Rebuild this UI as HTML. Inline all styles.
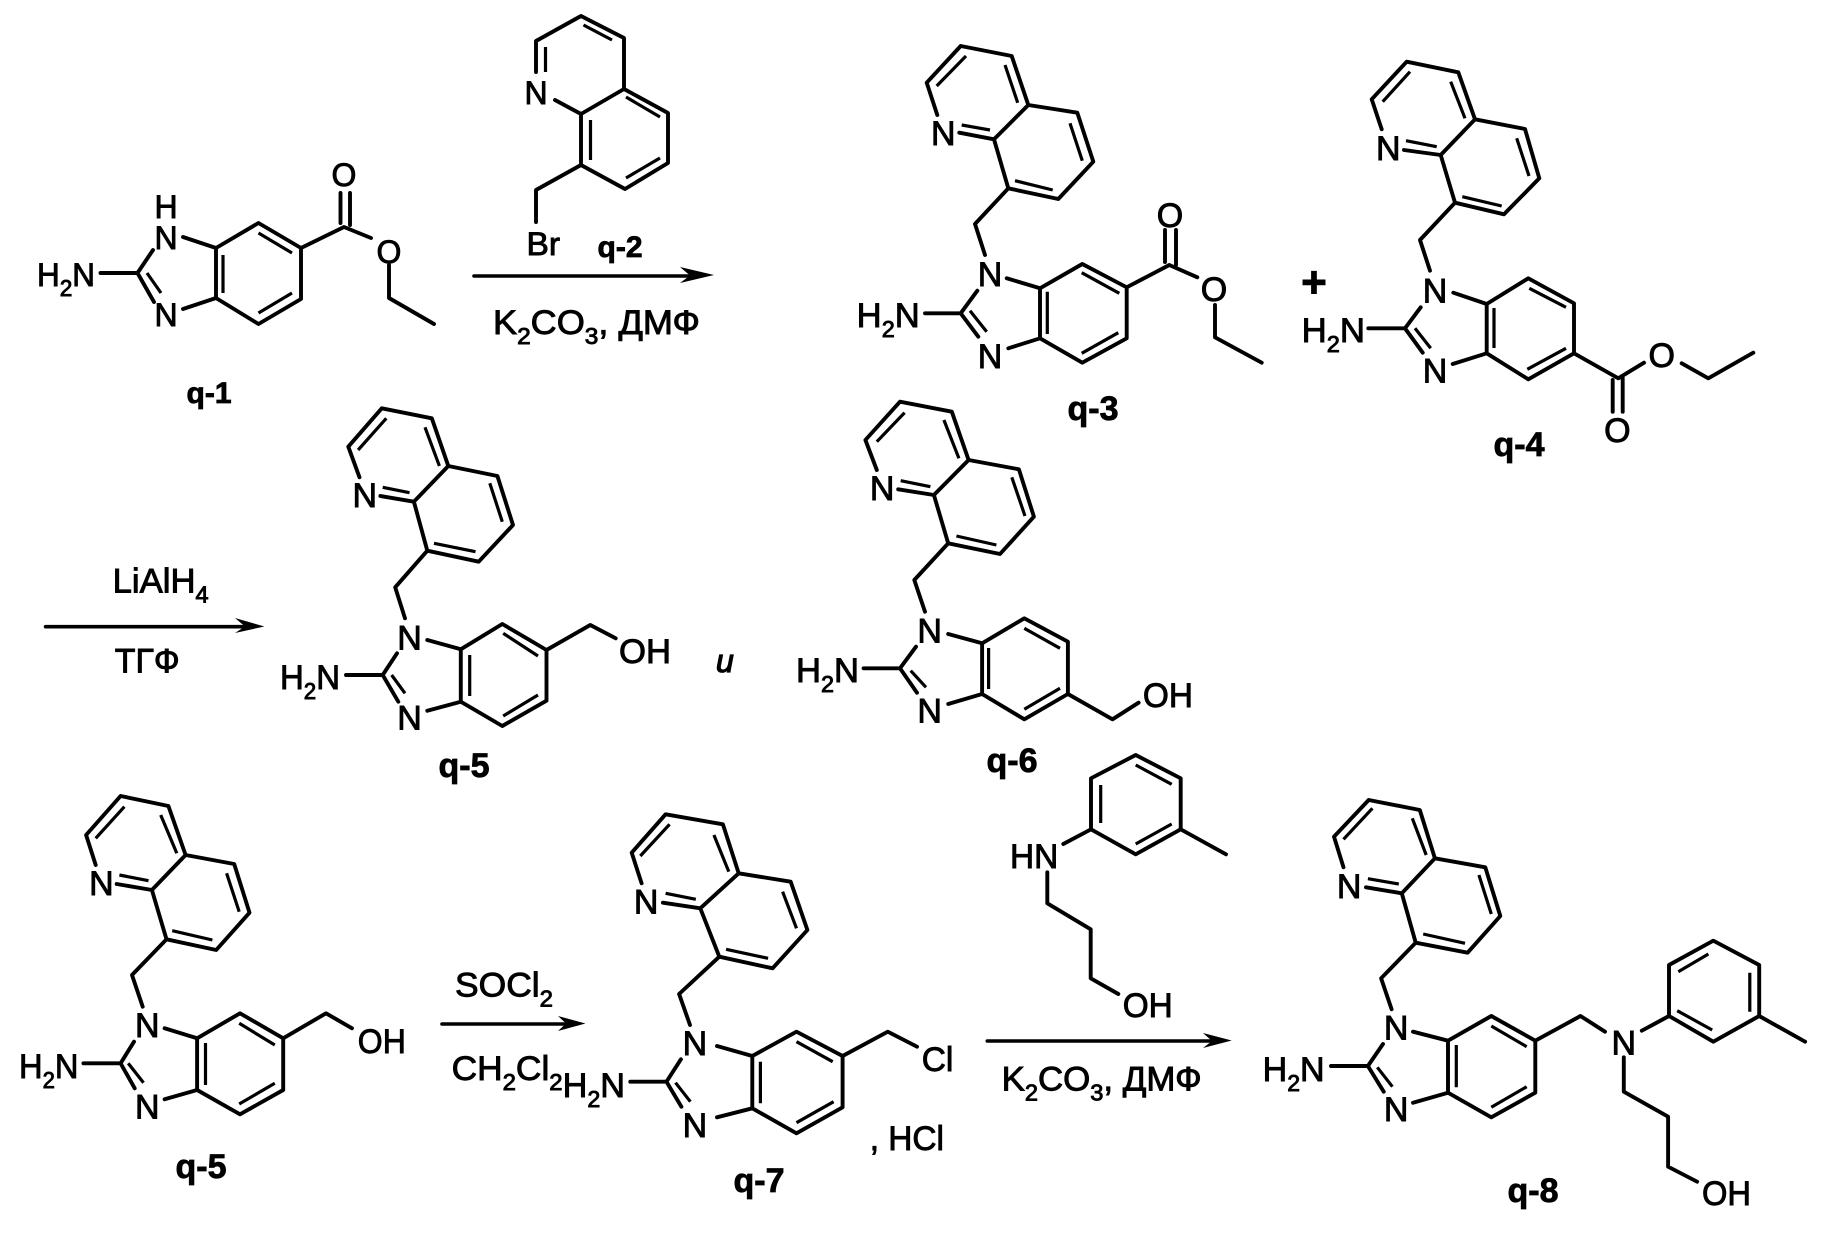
<!DOCTYPE html>
<html><head><meta charset="utf-8"><title>Reaction scheme</title>
<style>
html,body{margin:0;padding:0;background:#fff;width:1835px;height:1235px;overflow:hidden}
svg{display:block}
.b{fill:none;stroke:#000;stroke-width:3.9;stroke-linejoin:round;stroke-linecap:round}
.i{fill:none;stroke:#000;stroke-width:3.2;stroke-linecap:butt}
.r{fill:none;stroke:#000;stroke-width:3.6;stroke-linecap:round}
text{font-family:"Liberation Sans",Arial,sans-serif;font-size:34px;fill:#000;stroke:#000;stroke-width:.9}
.a{text-anchor:middle}
.sm{font-size:32px}
.q{font-weight:bold;text-anchor:middle;stroke-width:.8}
.s{font-size:23px}
</style></head><body>
<svg width="1835" height="1235" viewBox="0 0 1835 1235" xmlns="http://www.w3.org/2000/svg">
<rect width="1835" height="1235" fill="#fff"/>

<!-- q-1 -->
<path class="b" d="M216 248L258.5 223L301 248L301 299L258.5 324L216 298Z M183 237L216 248 M183 309L216 298 M153 250L137.5 273L154 302 M100.5 273H137.5 M301 248L344 227L371 238 M389 265V298L434 324 M340.5 193V223 M350 193V225"/>
<path class="i" d="M223 255V293 M258.5 233L292 253 M258.5 313L292 293 M147 273L161 293"/>
<text class="a sm" x="166" y="218">H</text><text class="a sm" x="166" y="249">N</text><text class="a sm" x="166" y="326">N</text>
<text class="sm" x="37" y="286" textLength="58" lengthAdjust="spacingAndGlyphs">H<tspan class="s" dy="10">2</tspan><tspan dy="-10">N</tspan></text>
<text class="a sm" x="344" y="186">O</text><text class="a sm" x="389" y="263">O</text>
<text class="q" style="font-size:30px" x="209" y="403">q-1</text>

<!-- q-2 -->
<path class="b" d="M555 100L581 114L624 89L624 38L581 16L536 41V72 M624 89L668 113V163L625 189L581 165V114 M581 165L536 190V222"/>
<path class="i" d="M545.5 47V72 M583.5 25L612 40 M626 97L660 117 M660 158L626 178 M590.5 120V160"/>
<text class="a sm" x="536" y="104">N</text>
<text class="sm" x="526.5" y="255" textLength="33.5" lengthAdjust="spacingAndGlyphs">Br</text>
<text class="q" style="font-size:30px" x="620" y="257">q-2</text>
<path class="r" d="M474 276H690"/><path d="M714 275L680 267L690 275.5L680 283Z"/>
<text x="493" y="334" textLength="207" lengthAdjust="spacingAndGlyphs">K<tspan class="s" dy="10">2</tspan><tspan dy="-10">CO</tspan><tspan class="s" dy="10">3</tspan><tspan dy="-10">, ДМФ</tspan></text>

<!-- q-3 -->
<path class="b" d="M937.3 115L926.7 82.7L960.7 46L1011.7 56L1028.3 105L994 139.3L1008.3 188.3L1058.3 199L1093.3 161.7L1077.3 112.7L1028.3 105 M994 139.3L959.3 132.7 M1008.3 188.3L975 224L985 255 M977.3 290.7L960.7 313.3L978.3 336.7 M925 313.3H960.7 M1006.7 278.3L1040 288.3L1082.3 264L1126.7 287.3V338.3L1082.3 362.7L1040 338.3L1008.3 348.3 M1040 288.3V338.3 M1126.7 287.3L1169.3 265L1197.3 277.3 M1215 305V337.3L1261.7 362.7 M1165 230V262 M1176 230V265"/>
<path class="i" d="M966 56L936.7 86 M1005 65L1017.7 102.7 M1070 123.3L1082.3 160.7 M1052.7 190L1015 180.7 M990 130L961.7 125 M970 310.7L986.7 331.7 M1047.3 291.7V334 M1081.7 272.7L1119.3 293.3 M1081.7 353.3L1118.3 332.7"/>
<text class="a" x="943.3" y="145">N</text><text class="a" x="990" y="286">N</text><text class="a" x="990" y="368">N</text>
<text x="856.7" y="327" textLength="63" lengthAdjust="spacingAndGlyphs">H<tspan class="s" dy="10">2</tspan><tspan dy="-10">N</tspan></text>
<text class="a" x="1170" y="227">O</text><text class="a" x="1214" y="301">O</text>
<text class="q" x="1093" y="420">q-3</text>
<text x="1314" y="297" style="font-size:44px;font-weight:bold" class="a">+</text>

<!-- q-4 -->
<path class="b" d="M1381.7 129.3L1371.7 99.3L1406.7 61.7L1458.3 72.3L1475 119.3L1440.7 155L1455 202.7L1504 214.3L1539.3 178.3L1525 129L1475 119.3 M1440.7 155L1404 150 M1455 202.7L1420 240L1430 270.7 M1420.7 307.3L1405 328.3L1422.7 352.7 M1368.3 328.3H1405 M1453.3 292.7L1486.7 304L1528.3 278.3L1574 303.3V353.3L1528.3 379.3L1486.7 353.3L1452.7 364 M1486.7 304V353.3 M1574 353.3L1618.3 378.3L1644 362.7 M1681.7 363.3L1708.3 378.3L1753.3 352.7 M1612.7 380V411.7 M1622.7 378V411.7"/>
<path class="i" d="M1410 71.7L1382.7 101.7 M1450.7 81.7L1465 118.3 M1516.7 138.3L1529 176 M1501.7 206L1462.3 196.7 M1436.7 146.7L1406 140.7 M1415 328.3L1430.7 348.3 M1494 308V348 M1529.3 288.3L1566 307.3 M1527.3 369.3L1566 348.3"/>
<text class="a" x="1388.3" y="160">N</text><text class="a" x="1435" y="302.5">N</text><text class="a" x="1435" y="382.5">N</text>
<text x="1301.7" y="342" textLength="63.3" lengthAdjust="spacingAndGlyphs">H<tspan class="s" dy="10">2</tspan><tspan dy="-10">N</tspan></text>
<text class="a" x="1617.3" y="442">O</text><text class="a" x="1661.7" y="367">O</text>
<text class="q" x="1519" y="456">q-4</text>

<!-- q-5 upper -->
<path class="b" d="M359.5 477.3L348.3 446.7L381.8 408.3L431.8 418.3L448.3 466L413.9 501.7L427.3 550.7L478.7 561.7L513 525L497.4 476L448.3 466 M413.9 501.7L380.4 496 M427.3 550.7L395.2 587.3L405 618.3 M397 653.3L382.7 675L398.3 701.7 M346 675H382.7 M427.3 640L460.8 649.3L502.3 624L546.5 650V700.7L502.3 726L460.8 701.7L427.3 710.7 M460.8 649.3V701.7 M546.5 650L590.3 625L615.7 638.3"/>
<path class="i" d="M386.3 418.3L358.1 450 M425 427.3L439.4 466 M489.8 483.3L502.3 521.7 M475.5 551.7L434 543.3 M409.5 492.7L382.7 487.3 M391.6 675L405 693.3 M469.7 655V696 M503.2 633.3L538 656 M503.2 716L538 695"/>
<text class="a" x="364.8" y="507">N</text><text class="a" x="409.5" y="649.5">N</text><text class="a" x="409.5" y="729.5">N</text>
<text x="280" y="689" textLength="60" lengthAdjust="spacingAndGlyphs">H<tspan class="s" dy="10">2</tspan><tspan dy="-10">N</tspan></text>
<text x="619" y="663" textLength="52" lengthAdjust="spacingAndGlyphs">OH</text>
<text class="q" x="464" y="777">q-5</text>
<text x="112.6" y="592.7" textLength="96" lengthAdjust="spacingAndGlyphs">LiAlH<tspan class="s" dy="10">4</tspan></text>
<path class="r" d="M45.6 626.7H245"/><path d="M264.4 626.5L235 618L245 626.5L235 633Z"/>
<text x="114.8" y="672.7" textLength="64.8" lengthAdjust="spacingAndGlyphs">ТГФ</text>
<text x="716" y="672" style="font-size:32px;font-style:italic;stroke-width:1.2">и</text>

<!-- q-6 -->
<path class="b" d="M876.8 470L865.4 440L900 401.7L951.8 411.7L968.6 460L933.9 495L948.2 543.3L1000 554L1033.9 516.7L1018.9 469.3L968.6 460 M933.9 495L898.2 489.3 M948.2 543.3L914.3 580L925 611.7 M916 646.7L900 668.3L917 692.7 M863.6 668.3H900 M948.2 634L982.1 643.3L1024.3 618.3L1067.9 641.7V694L1024.3 719.3L982.1 694L948.2 704 M982.1 643.3V694 M1067.9 694L1112.5 719.3L1138.6 702.7"/>
<path class="i" d="M904.6 412.7L876.8 441.7 M943.9 420L958.9 458.3 M1011.8 477.3L1025 516 M996.4 545L956.4 536 M930.4 486.7L900.7 480.7 M910.7 670.7L926 687.3 M988.6 648V689 M1024.3 628.3L1060 648.3 M1024.3 709.3L1060 688.3"/>
<text class="a" x="882.1" y="500">N</text><text class="a" x="929.6" y="642.5">N</text><text class="a" x="929.6" y="722.5">N</text>
<text x="796" y="682" textLength="63" lengthAdjust="spacingAndGlyphs">H<tspan class="s" dy="10">2</tspan><tspan dy="-10">N</tspan></text>
<text x="1142.9" y="707" textLength="50" lengthAdjust="spacingAndGlyphs">OH</text>
<text class="q" x="1012" y="772">q-6</text>

<!-- q-5 lower -->
<path class="b" d="M95.7 865L86.1 835L120.6 796L168.4 806L185.6 855L151.9 890L166.5 939.3L216.2 950L249.5 912.7L234.2 864L185.6 855 M151.9 890L116.7 884 M166.5 939.3L132 975L142.7 1006.7 M134 1041.7L120.6 1063.3L134.7 1088.3 M83.4 1063.3H120.6 M164.6 1028.3L197.1 1038.3L240 1013.3L283.2 1038.3V1090L240 1114.3L197.1 1090L164.6 1099.3 M197.1 1038.3V1090 M283.2 1038.3L326 1013.3L352 1028.3"/>
<path class="i" d="M124.4 806.7L95.7 838.3 M160.7 815L176.8 853.3 M226.6 873.3L239.2 911.7 M212.4 940L172.2 930.7 M148.5 880.7L119.4 875 M128.2 1063.3L143.5 1082.7 M205.5 1043V1085 M239.2 1023.3L274.8 1045 M239.2 1104L274.8 1083.3"/>
<text class="a" x="101.4" y="895">N</text><text class="a" x="147.3" y="1037">N</text><text class="a" x="147.3" y="1118.5">N</text>
<text x="19" y="1078" textLength="59.5" lengthAdjust="spacingAndGlyphs">H<tspan class="s" dy="10">2</tspan><tspan dy="-10">N</tspan></text>
<text x="357.8" y="1053" textLength="48" lengthAdjust="spacingAndGlyphs">OH</text>
<text class="q" x="201" y="1178">q-5</text>
<text x="455" y="996.7" textLength="98" lengthAdjust="spacingAndGlyphs">SOCl<tspan class="s" dy="10">2</tspan></text>
<path class="r" d="M442 1024H565"/><path d="M585.5 1023.5L558 1016L566 1023.5L558 1031Z"/>
<text x="451.6" y="1080" textLength="111" lengthAdjust="spacingAndGlyphs">CH<tspan class="s" dy="10">2</tspan><tspan dy="-10">Cl</tspan><tspan class="s" dy="10">2</tspan></text>

<!-- q-7 -->
<path class="b" d="M641.6 883.3L631.7 852.7L665.6 814.3L722.9 824.3L738.7 873.3L700.3 908.3L719.3 956.7L772.6 968.3L807.4 930L790.7 881.7L738.7 873.3 M700.3 908.3L662.9 902.7 M719.3 956.7L679.1 994L690 1025 M680.9 1059.3L666.5 1081.7L681.4 1106.7 M630.3 1081.7H666.5 M717 1046L752.3 1056L796.5 1031.7L842.6 1056V1107.3L796.5 1133.3L752.3 1108.3L717 1117.3 M752.3 1056V1108.3 M842.6 1056L887.8 1031.7L917 1046.7"/>
<path class="i" d="M669.6 824.3L640.3 856 M713.9 835L728.8 871.7 M782.6 891.7L796.5 928.3 M768.1 958.3L726.1 949.3 M695.8 899.3L665.6 893.3 M675.5 1082.7L690.4 1101.7 M760.4 1061.7V1103.3 M796.5 1041.7L832.7 1061.7 M796.5 1122.7L833.6 1101.7"/>
<text class="a" x="646.1" y="913.5">N</text><text class="a" x="694.9" y="1055">N</text><text class="a" x="694.9" y="1137">N</text>
<text x="562.6" y="1097" textLength="62.4" lengthAdjust="spacingAndGlyphs">H<tspan class="s" dy="10">2</tspan><tspan dy="-10">N</tspan></text>
<text x="921.7" y="1071" textLength="31.6" lengthAdjust="spacingAndGlyphs">Cl</text>
<text x="869.7" y="1150" textLength="74.3" lengthAdjust="spacingAndGlyphs">, HCl</text>
<text class="q" x="759" y="1192">q-7</text>

<!-- amine reagent -->
<path class="b" d="M1091 778.3L1135.7 755L1180.7 778.3V829.3L1135.7 854.3L1091 829.3Z M1180.7 829.3L1226 854.3 M1091 829.3L1063.3 844 M1047.3 872.3V903.3L1090.7 929.3V978.3L1118.3 994"/>
<path class="i" d="M1100.7 785V823 M1135.7 765L1171.7 784.3 M1135.7 844L1171.7 824"/>
<text x="1010" y="868" textLength="48.3" lengthAdjust="spacingAndGlyphs">HN</text>
<text x="1122.7" y="1017" textLength="50" lengthAdjust="spacingAndGlyphs">OH</text>
<path class="r" d="M987.3 1041H1212"/><path d="M1231.7 1040.5L1203 1033L1212 1041L1203 1048Z"/>
<text x="1001.6" y="1090.7" textLength="200" lengthAdjust="spacingAndGlyphs">K<tspan class="s" dy="10">2</tspan><tspan dy="-10">CO</tspan><tspan class="s" dy="10">3</tspan><tspan dy="-10">, ДМФ</tspan></text>

<!-- q-8 -->
<path class="b" d="M1343.5 867.3L1334 836.7L1368.7 800L1419.8 810L1434.9 858.3L1401.8 893.3L1415.7 942.7L1467.6 952.7L1500.3 916L1485.3 867.3L1434.9 858.3 M1401.8 893.3L1366 887.3 M1415.7 942.7L1381.1 978.3L1391.6 1009.3 M1383 1044L1367.9 1066L1383.7 1091.7 M1331 1066H1367.9 M1413 1031.7L1448 1040.7L1491.3 1016L1535.3 1040.7V1092.7L1491.3 1117.3L1448 1092.7L1413 1102.7 M1448 1040.7V1092.7 M1535.3 1040.7L1580.5 1016L1605 1031.7 M1641.8 1030.7L1669 1016V965L1713.3 940.7L1759.2 965V1016L1713.3 1041.7L1669 1016 M1759.2 1016L1805.1 1041.7 M1623.8 1057.3V1091.7L1668.1 1116.7V1166.7L1697.1 1181.7"/>
<path class="i" d="M1372.4 808.3L1343.5 839.3 M1412.3 818.3L1426.2 855 M1478.9 875L1491.3 914 M1465 943.3L1423.2 934 M1398.8 884L1367.9 878.7 M1377.3 1067.3L1392.4 1086.7 M1456.3 1045V1087.3 M1491.3 1026L1526.7 1046.7 M1491.3 1107.3L1526.7 1086.7 M1678.3 971.7L1708.4 954 M1749.8 972.7V1011.7 M1677.2 1010.7L1712.2 1030"/>
<text class="a" x="1349.1" y="898">N</text><text class="a" x="1396.1" y="1039.5">N</text><text class="a" x="1396.1" y="1121">N</text><text class="a" x="1623.8" y="1054.7">N</text>
<text x="1262.6" y="1081" textLength="62" lengthAdjust="spacingAndGlyphs">H<tspan class="s" dy="10">2</tspan><tspan dy="-10">N</tspan></text>
<text x="1702" y="1205" textLength="49" lengthAdjust="spacingAndGlyphs">OH</text>
<text class="q" x="1533" y="1202">q-8</text>
</svg>
</body></html>
